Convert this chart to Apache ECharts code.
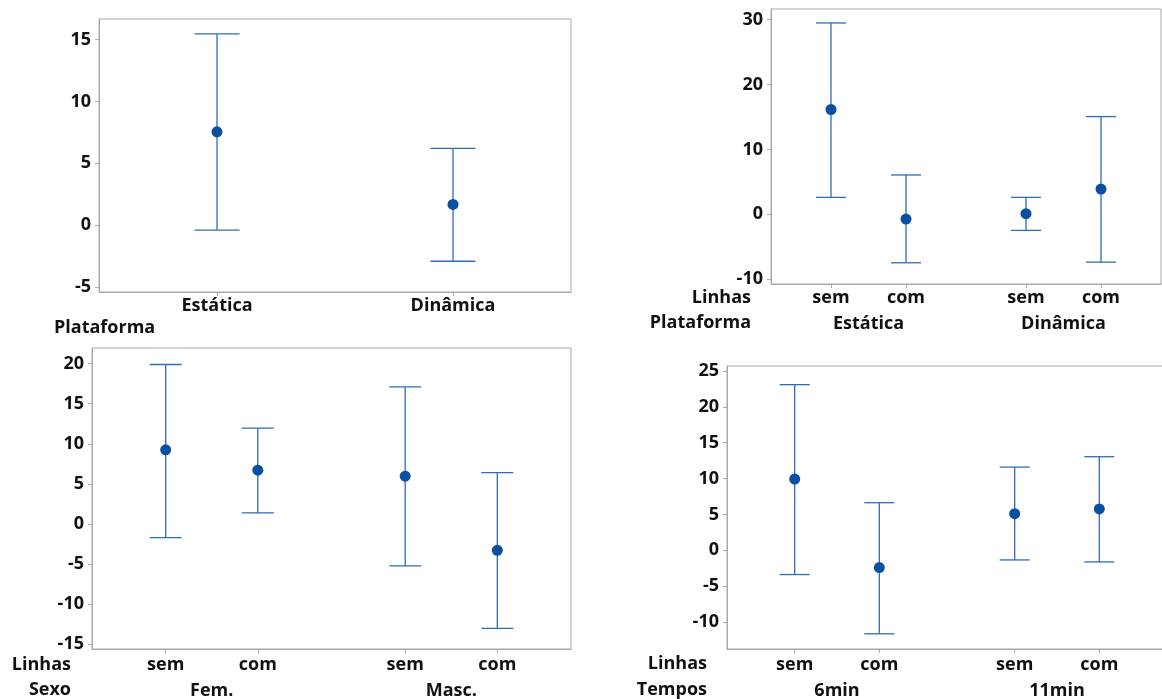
<!DOCTYPE html>
<html>
<head>
<meta charset="utf-8">
<script src="https://cdn.jsdelivr.net/npm/echarts@6/dist/echarts.min.js"></script>
<style>
  html, body { margin: 0; padding: 0; background: #ffffff; }
  #chart { width: 1162px; height: 699px; }
</style>
</head>
<body>
<div id="chart"></div>
<script>
// ---------------- DATA ----------------
// Panel 1: Plataforma
const p1Categories = ['Estática', 'Dinâmica'];
const p1Mean  = [7.55, 1.69];
const p1Upper = [15.45, 6.21];
const p1Lower = [-0.38, -2.9];
const p1Ticks = [-5, 0, 5, 10, 15];

// Panel 2: Linhas x Plataforma
const p2Linhas = ['sem', 'com', 'sem', 'com'];
const p2Groups = ['Estática', 'Dinâmica'];
const p2Mean  = [16.16, -0.72, 0.1, 3.9];
const p2Upper = [29.5, 6.07, 2.62, 15.07];
const p2Lower = [2.62, -7.46, -2.47, -7.36];
const p2Ticks = [-10, 0, 10, 20, 30];

// Panel 3: Linhas x Sexo
const p3Linhas = ['sem', 'com', 'sem', 'com'];
const p3Groups = ['Fem.', 'Masc.'];
const p3Mean  = [9.25, 6.7, 5.95, -3.3];
const p3Upper = [19.9, 11.95, 17.1, 6.41];
const p3Lower = [-1.71, 1.37, -5.25, -13.05];
const p3Ticks = [-15, -10, -5, 0, 5, 10, 15, 20];

// Panel 4: Linhas x Tempos
const p4Linhas = ['sem', 'com', 'sem', 'com'];
const p4Groups = ['6min', '11min'];
const p4Mean  = [9.94, -2.41, 5.11, 5.77];
const p4Upper = [23.1, 6.64, 11.6, 13.05];
const p4Lower = [-3.38, -11.64, -1.34, -1.62];
const p4Ticks = [-10, -5, 0, 5, 10, 15, 20, 25];

// Row headers
const rowHeaders = {
  p1: 'Plataforma',
  p2: ['Linhas', 'Plataforma'],
  p3: ['Linhas', 'Sexo'],
  p4: ['Linhas', 'Tempos']
};

// ---------------- STYLE / LAYOUT ----------------
const FONT = '"Open Sans", "Noto Sans", sans-serif';
const TXT = '#111111';
const AXIS = '#a8a8a8';
const BAR = '#2e6db8';
const DOT = '#0a4fa2';
const GROUP_STEP = 2.6;   // distance between groups (sub-items are 1 apart)
const X_MIN = -0.8, X_MAX = 4.4;

const textStyle = { fontFamily: FONT, fontSize: 18, fontWeight: 'bold', color: TXT };
const headerFont = 'bold 18px ' + FONT;

const subPos = [0, 1, GROUP_STEP, GROUP_STEP + 1];
const groupCenters = [0.5, GROUP_STEP + 0.5];

function nearestIdx(arr, v) {
  let best = 0, bd = Infinity;
  arr.forEach((a, i) => { const d = Math.abs(a - v); if (d < bd) { bd = d; best = i; } });
  return best;
}

function errRender(capPx) {
  return function (params, api) {
    const x = api.value(0), lo = api.value(1), hi = api.value(2);
    const pLo = api.coord([x, lo]);
    const pHi = api.coord([x, hi]);
    const h = capPx / 2;
    const st = { stroke: BAR, lineWidth: 1.3 };
    return {
      type: 'group',
      children: [
        { type: 'line', shape: { x1: pLo[0], y1: pLo[1], x2: pHi[0], y2: pHi[1] }, style: st },
        { type: 'line', shape: { x1: pHi[0] - h, y1: pHi[1], x2: pHi[0] + h, y2: pHi[1] }, style: st },
        { type: 'line', shape: { x1: pLo[0] - h, y1: pLo[1], x2: pLo[0] + h, y2: pLo[1] }, style: st }
      ]
    };
  };
}

function yAxisFor(gridIndex, min, max, ticks) {
  return {
    type: 'value', gridIndex, min, max, position: 'left',
    axisLine: { show: true, onZero: false, lineStyle: { color: AXIS, width: 1 } },
    axisTick: { show: true, length: 4, customValues: ticks, lineStyle: { color: AXIS } },
    axisLabel: Object.assign({ customValues: ticks, margin: 8 }, textStyle),
    splitLine: { show: false }
  };
}

function groupedXAxes(gridIndex, subLabels, groupLabels, margin) {
  return [
    {
      type: 'value', gridIndex, min: X_MIN, max: X_MAX, position: 'bottom', offset: 0,
      axisLine: { show: true, onZero: false, lineStyle: { color: AXIS } },
      axisTick: { show: true, length: 4, customValues: subPos, lineStyle: { color: AXIS } },
      axisLabel: Object.assign({
        customValues: subPos, margin: margin,
        formatter: v => subLabels[nearestIdx(subPos, v)]
      }, textStyle),
      splitLine: { show: false }
    },
    {
      type: 'value', gridIndex, min: X_MIN, max: X_MAX, position: 'bottom', offset: 26,
      axisLine: { show: false, onZero: false },
      axisTick: { show: false },
      axisLabel: Object.assign({
        customValues: groupCenters, margin: margin,
        formatter: v => groupLabels[nearestIdx(groupCenters, v)]
      }, textStyle),
      splitLine: { show: false }
    }
  ];
}

function groupedSeries(axisIdx, yIdx, lowers, uppers, means, capPx) {
  return [
    {
      type: 'custom', xAxisIndex: axisIdx, yAxisIndex: yIdx,
      renderItem: errRender(capPx),
      data: subPos.map((x, i) => [x, lowers[i], uppers[i]]),
      silent: true, z: 2
    },
    {
      type: 'scatter', xAxisIndex: axisIdx, yAxisIndex: yIdx,
      data: subPos.map((x, i) => [x, means[i]]),
      symbol: 'circle', symbolSize: 11,
      itemStyle: { color: DOT, opacity: 1 }, silent: true, z: 3
    }
  ];
}

function header(text, x, y, align) {
  return {
    type: 'text', x: x, y: y, silent: true,
    style: { text: text, font: headerFont, fill: TXT, align: align, verticalAlign: 'middle' }
  };
}

const gridBase = { show: true, borderColor: AXIS, borderWidth: 1, backgroundColor: 'transparent', outerBoundsMode: 'none', containLabel: false };

const option = {
  animation: false,
  backgroundColor: '#ffffff',
  textStyle: { fontFamily: FONT },
  grid: [
    Object.assign({ left: 99, top: 19, width: 472, height: 273 }, gridBase),
    Object.assign({ left: 771, top: 9, right: 1, height: 275 }, gridBase),
    Object.assign({ left: 92, top: 348, width: 479, height: 301 }, gridBase),
    Object.assign({ left: 727, top: 366, right: -5, height: 283 }, gridBase)
  ],
  xAxis: [
    {
      type: 'category', gridIndex: 0, data: p1Categories, boundaryGap: true, position: 'bottom',
      axisLine: { show: true, onZero: false, lineStyle: { color: AXIS } },
      axisTick: { show: true, alignWithLabel: true, length: 4, lineStyle: { color: AXIS } },
      axisLabel: Object.assign({ margin: 5 }, textStyle),
      splitLine: { show: false }
    },
    ...groupedXAxes(1, p2Linhas, p2Groups, 5),
    ...groupedXAxes(2, p3Linhas, p3Groups, 7),
    ...groupedXAxes(3, p4Linhas, p4Groups, 7)
  ],
  yAxis: [
    yAxisFor(0, -5.38, 16.65, p1Ticks),
    yAxisFor(1, -10.73, 31.65, p2Ticks),
    yAxisFor(2, -15.62, 21.96, p3Ticks),
    yAxisFor(3, -13.76, 25.7, p4Ticks)
  ],
  graphic: [
    header(rowHeaders.p1, 54, 328, 'left'),
    header(rowHeaders.p2[0], 751, 298, 'right'),
    header(rowHeaders.p2[1], 751, 323, 'right'),
    header(rowHeaders.p3[0], 71, 665, 'right'),
    header(rowHeaders.p3[1], 71, 690, 'right'),
    header(rowHeaders.p4[0], 707, 664, 'right'),
    header(rowHeaders.p4[1], 707, 690, 'right')
  ],
  series: [
    {
      type: 'custom', xAxisIndex: 0, yAxisIndex: 0,
      renderItem: errRender(45),
      data: p1Categories.map((c, i) => [i, p1Lower[i], p1Upper[i]]),
      silent: true, z: 2
    },
    {
      type: 'scatter', xAxisIndex: 0, yAxisIndex: 0,
      data: p1Categories.map((c, i) => [i, p1Mean[i]]),
      symbol: 'circle', symbolSize: 11,
      itemStyle: { color: DOT, opacity: 1 }, silent: true, z: 3
    },
    ...groupedSeries(1, 1, p2Lower, p2Upper, p2Mean, 30),
    ...groupedSeries(3, 2, p3Lower, p3Upper, p3Mean, 32),
    ...groupedSeries(5, 3, p4Lower, p4Upper, p4Mean, 30)
  ]
};

const chart = echarts.init(document.getElementById('chart'), null, { renderer: 'canvas' });
chart.setOption(option);
</script>
</body>
</html>
